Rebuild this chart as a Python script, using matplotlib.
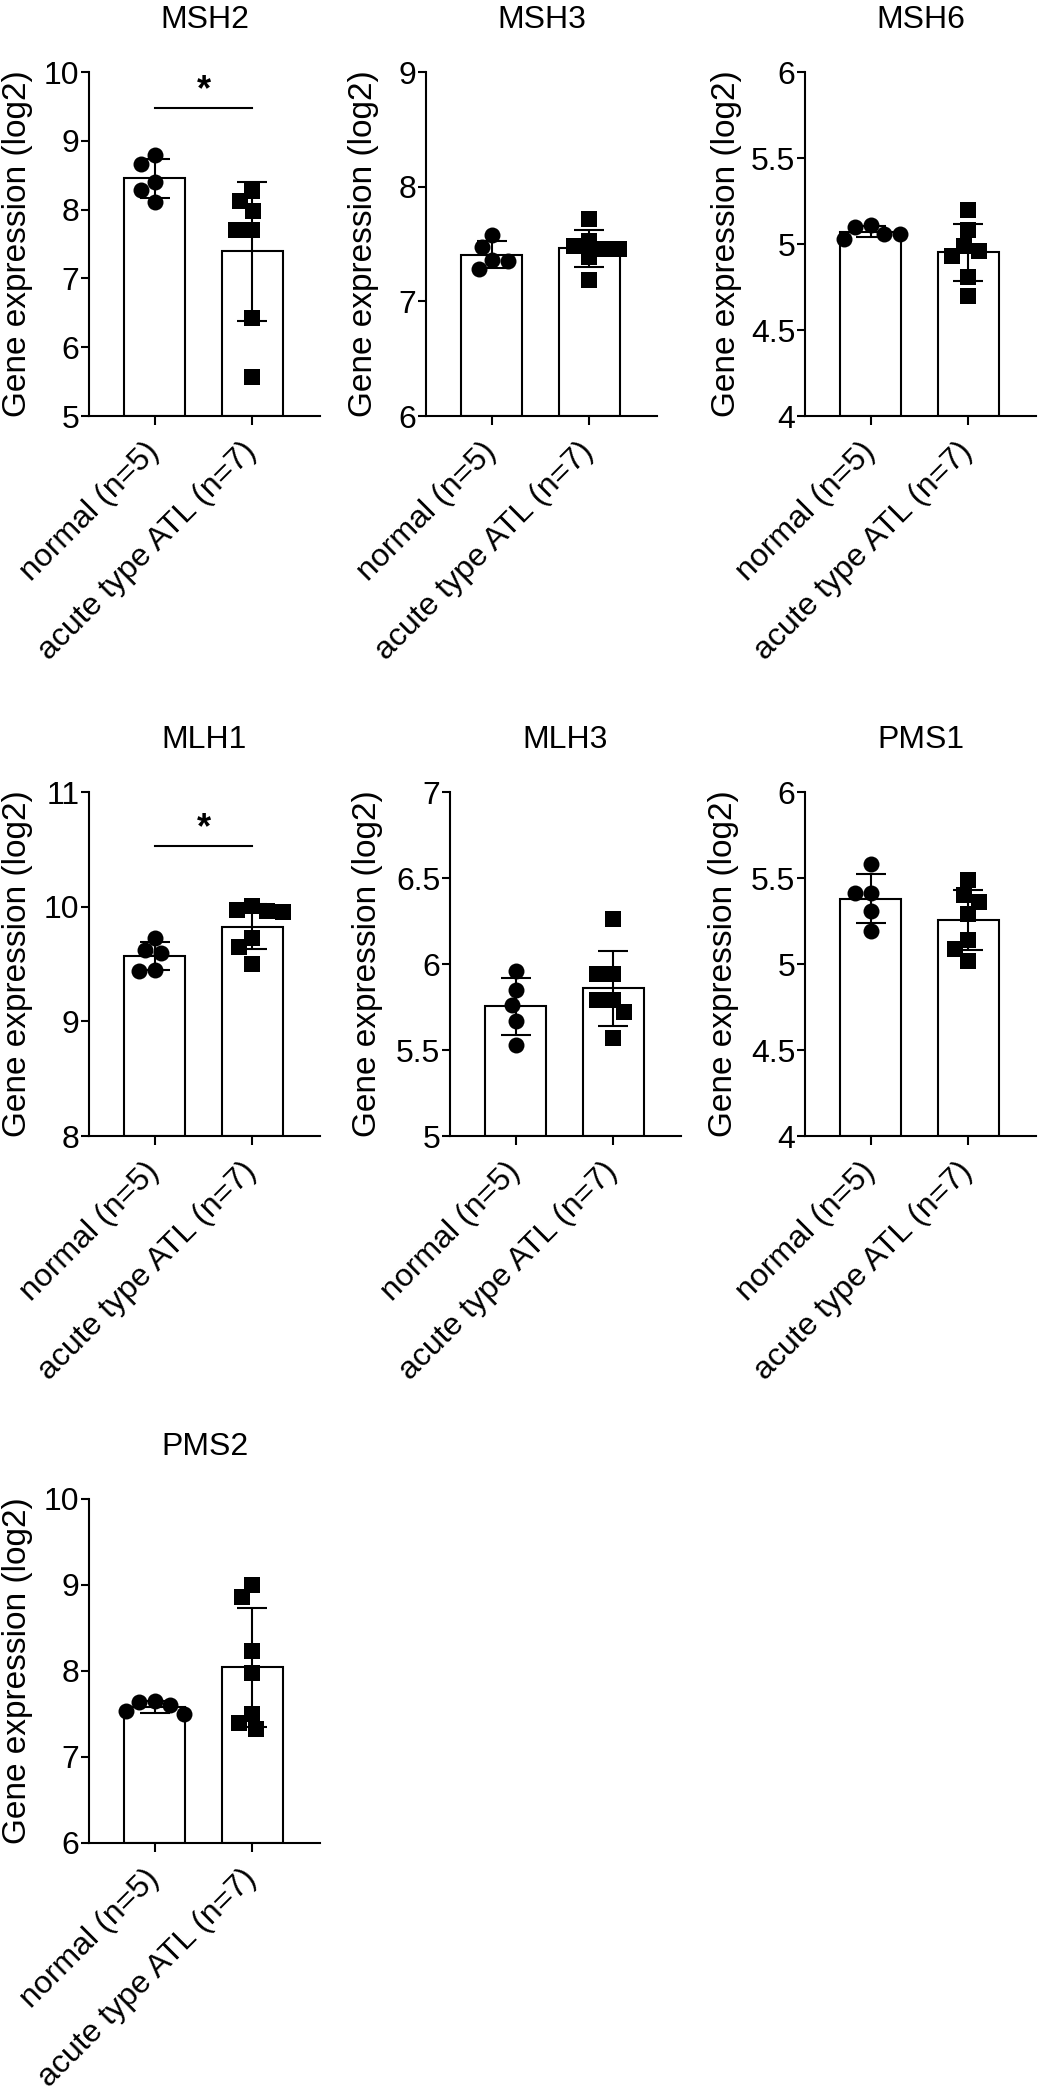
import numpy as np
import matplotlib
matplotlib.use('Agg')
import matplotlib.pyplot as plt
from matplotlib.ticker import FuncFormatter

plt.rcParams['font.family'] = ['Liberation Sans', 'DejaVu Sans']

# ---------------- data ----------------
genes = ['MSH2', 'MSH3', 'MSH6', 'MLH1', 'MLH3', 'PMS1', 'PMS2']
groups = ['normal (n=5)', 'acute type ATL (n=7)']
y_label = 'Gene expression (log2)'

msh2_normal = [8.80, 8.67, 8.40, 8.29, 8.11]
msh2_atl = [8.27, 8.12, 7.98, 7.71, 7.70, 6.42, 5.56]
msh3_normal = [7.58, 7.47, 7.36, 7.35, 7.28]
msh3_atl = [7.72, 7.53, 7.48, 7.46, 7.46, 7.39, 7.19]
msh6_normal = [5.11, 5.10, 5.06, 5.06, 5.03]
msh6_atl = [5.20, 5.08, 4.99, 4.96, 4.93, 4.81, 4.70]
mlh1_normal = [9.73, 9.62, 9.60, 9.45, 9.44]
mlh1_atl = [10.01, 9.97, 9.96, 9.95, 9.73, 9.65, 9.50]
mlh3_normal = [5.96, 5.85, 5.76, 5.67, 5.53]
mlh3_atl = [6.26, 5.94, 5.94, 5.79, 5.79, 5.72, 5.57]
pms1_normal = [5.58, 5.41, 5.41, 5.31, 5.19]
pms1_atl = [5.49, 5.40, 5.36, 5.29, 5.14, 5.09, 5.02]
pms2_normal = [7.65, 7.64, 7.60, 7.53, 7.50]
pms2_atl = [9.00, 8.86, 8.23, 7.98, 7.50, 7.40, 7.32]

# y axis (min, max, step) per gene
y_min = [5, 6, 4, 8, 5, 4, 6]
y_max = [10, 9, 6, 11, 7, 6, 10]
y_step = [1, 1, 0.5, 1, 0.5, 0.5, 1]

# significance annotations
sig_gene = ['MSH2', 'MLH1']
sig_level = [9.48, 10.53]
sig_text = ['*', '*']

normal_sets = [msh2_normal, msh3_normal, msh6_normal, mlh1_normal,
               mlh3_normal, pms1_normal, pms2_normal]
atl_sets = [msh2_atl, msh3_atl, msh6_atl, mlh1_atl,
            mlh3_atl, pms1_atl, pms2_atl]

# ---------------- layout (pixels of the 1038x2100 canvas) ----------------
W, H = 1038, 2100
AX_W, AX_H = 231, 344
ax_left_px = [89, 426, 805, 89, 450, 805, 89]
ax_top_px = [72, 72, 72, 792, 792, 792, 1499]
ylabel_x = [-0.242, -0.203, -0.273, -0.242, -0.29, -0.286, -0.242]

FS = 23
LW = 1.5
XLIM = (-0.673, 1.694)
BAR_W = 0.62
MARKER_PX = 16.0


def swarm_offsets(vals, px_per_y, px_per_x, d):
    vals = np.asarray(vals, dtype=float)
    order = np.argsort(-vals, kind='stable')
    placed = []
    offs = np.zeros(len(vals))
    for i in order:
        y = vals[i] * px_per_y
        cands = [0.0]
        for (px, py) in placed:
            dy = abs(y - py)
            if dy < d:
                dx = np.sqrt(d * d - dy * dy)
                cands += [px + dx, px - dx]
        cands = sorted(cands, key=lambda c: (round(abs(c), 6), c))
        for c in cands:
            if all((c - px) ** 2 + (y - py) ** 2 >= d * d - 1e-6 for px, py in placed):
                offs[i] = c
                placed.append((c, y))
                break
    return offs / px_per_x


fig = plt.figure(figsize=(W / 100, H / 100), dpi=100)

for k, gene in enumerate(genes):
    rect = [ax_left_px[k] / W, 1 - (ax_top_px[k] + AX_H) / H, AX_W / W, AX_H / H]
    ax = fig.add_axes(rect)
    ymin, ymax, step = y_min[k], y_max[k], y_step[k]
    ax.set_xlim(*XLIM)
    ax.set_ylim(ymin, ymax)

    px_per_y = AX_H / (ymax - ymin)
    px_per_x = AX_W / (XLIM[1] - XLIM[0])

    data = [np.asarray(normal_sets[k]), np.asarray(atl_sets[k])]
    means = [d.mean() for d in data]
    sds = [d.std(ddof=1) for d in data]

    ax.bar([0, 1], [m - ymin for m in means], bottom=ymin, width=BAR_W,
           color='white', edgecolor='black', linewidth=LW, zorder=1)
    ax.errorbar([0, 1], means, yerr=sds, fmt='none', ecolor='black',
                elinewidth=LW, capsize=10.8, capthick=LW, zorder=2)

    for j, (d, mk, ms) in enumerate(zip(data, ['o', 's'], [11.5, 11.0])):
        offs = swarm_offsets(d, px_per_y, px_per_x, MARKER_PX)
        ax.plot(j + offs, d, linestyle='none', marker=mk, markersize=ms,
                color='black', markeredgewidth=0, zorder=3, clip_on=False)

    if gene in sig_gene:
        s = sig_gene.index(gene)
        ax.plot([0, 1], [sig_level[s], sig_level[s]], color='black', lw=LW,
                zorder=2)
        ax.text(0.5, sig_level[s], sig_text[s], ha='center', va='bottom',
                fontsize=26, fontweight='bold')

    for side in ['top', 'right']:
        ax.spines[side].set_visible(False)
    for side in ['left', 'bottom']:
        ax.spines[side].set_linewidth(LW)

    ax.set_yticks(np.arange(ymin, ymax + step / 2, step))
    ax.yaxis.set_major_formatter(FuncFormatter(lambda v, _: f'{v:g}'))
    ax.tick_params(axis='y', direction='out', length=6, width=LW,
                   labelsize=FS, pad=1)
    ax.set_xticks([0, 1])
    ax.set_xticklabels(groups, rotation=45, ha='right', va='center',
                       rotation_mode='anchor')
    ax.tick_params(axis='x', direction='out', length=6.5, width=LW,
                   labelsize=FS, pad=16)

    ax.set_ylabel(y_label, fontsize=FS + 1)
    ax.yaxis.set_label_coords(ylabel_x[k], 0.5)
    ax.set_title(gene, fontsize=FS, pad=32)

fig.savefig('out.png', dpi=100)
